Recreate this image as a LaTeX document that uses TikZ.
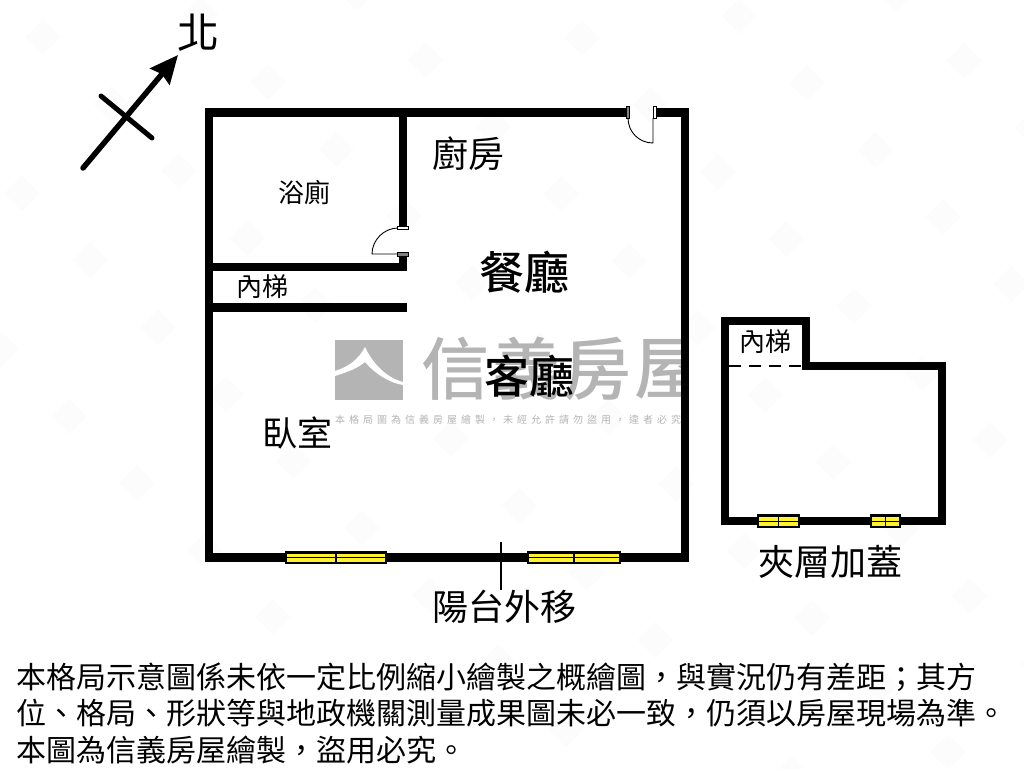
\documentclass[tikz,border=0pt]{standalone}
\usepackage{fontspec}
\setmainfont{Noto Sans CJK TC}
\newfontfamily\markfont[LetterSpace=40]{Noto Sans CJK TC}
\newfontfamily\heavyfont{Noto Sans CJK TC Medium}
\usetikzlibrary{positioning, arrows.meta}
\newcommand{\wcomma}{\char"FF0C\relax}
\newcommand{\wsemi}{\char"FF1B\relax}
\definecolor{markgray}{HTML}{B4B4B4}
\definecolor{winyellow}{HTML}{FFF22E}
\definecolor{stampgray}{HTML}{FCFCFC}
\tikzstyle{wall} = [line width=8.6pt, line join=miter, line cap=butt]
\tikzstyle{window} = [draw=black, fill=winyellow, line width=2.8pt]
\tikzstyle{jamb} = [draw=black, fill=white, line width=0.7pt]
\tikzstyle{swing} = [draw=black, line width=0.9pt]
\tikzstyle{roomlabel} = [inner sep=0pt, font=\fontsize{26}{30}\selectfont]
\tikzstyle{midlabel} = [inner sep=0pt, font=\fontsize{36}{40}\selectfont]
\tikzstyle{biglabel} = [inner sep=0pt, font=\heavyfont\fontsize{45}{50}\selectfont]
\tikzstyle{noteline} = [inner sep=0pt, anchor=west, font=\fontsize{30}{36}\selectfont]
\begin{document}
\begin{tikzpicture}[x=1pt,y=-1pt]
	\useasboundingbox (0,0) rectangle (1024,768);
	\begin{scope}
		\clip (0,0) rectangle (1024,768);
		\foreach \i in {-8,...,12}
			\foreach \j in {-6,...,6}
				\fill[stampgray, shift={(807+68*\i+157*\j,83+67*\i-22*\j)}] (-18,0) -- (0,-18) -- (18,0) -- (0,18) -- cycle;
	\end{scope}
	\fill[markgray] (335,340) rectangle (403,400);
	\fill[white] (365,347) .. controls (358,360) and (348,367) .. (335,371) -- (335,376) .. controls (348,372) and (358,368) .. (365,362) .. controls (375,374) and (390,383) .. (403,385) -- (403,382) .. controls (388,378) and (374,366) .. (365,347) -- cycle;
	\begin{scope}
		\clip (410,330) rectangle (684,430);
		\foreach \ch [count=\i from 0] in {信,義,房,屋}
			\node[inner sep=0pt, text=markgray, font=\heavyfont\fontsize{68}{70}\selectfont] (mark\i) at (455+71*\i,369) {\ch};
	\end{scope}
	\begin{scope}
		\clip (330,410) rectangle (684,430);
		\node[inner sep=0pt, anchor=west, text=markgray, font=\markfont\fontsize{10}{12}\selectfont] (markline) at (335,420) {本格局圖為信義房屋繪製\wcomma 未經允許請勿盜用\wcomma 違者必究};
	\end{scope}
	\draw[wall] (626,112.5) -- (209,112.5) -- (209,557.5) -- (685,557.5) -- (685,112.5) -- (656,112.5);
	\draw[wall] (403,112.5) -- (403,226);
	\draw[wall] (209,267) -- (403,267) -- (403,255);
	\draw[wall] (209,307.5) -- (407,307.5);
	\draw[wall] (725,366) -- (725,321) -- (806,321) -- (806,366) -- (942,366) -- (942,521) -- (725,521) -- cycle;
	\draw[line width=1.6pt, dash pattern=on 12pt off 8pt] (729,366) -- (802,366);
	\draw[swing] (398,228) .. controls (384,228) and (372,240) .. (372,254) -- (398,254);
	\draw[jamb] (397,226) rectangle (408,229);
	\draw[jamb, fill=gray] (397,252) rectangle (408,256);
	\draw[swing] (628,118) .. controls (628,132) and (639,143) .. (653,143) -- (653,118);
	\draw[jamb, fill=gray] (626,106) rectangle (629,118);
	\draw[jamb] (653,106) rectangle (656,118);
	\foreach \xa/\xb/\ya/\yb in {286/386/552.2/563, 528/620/552.2/563, 758/799/515.2/527, 871/900/515.2/527} {
		\draw[window] (\xa,\ya) rectangle (\xb,\yb);
		\draw[line width=1.1pt] (\xa,{(\ya+\yb)/2}) -- (\xb,{(\ya+\yb)/2});
		\draw[line width=1.1pt] ({(\xa+\xb)/2},\ya) -- ({(\xa+\xb)/2},\yb);
	}
	\coordinate (tail) at (83,168);
	\coordinate (tip) at (178,55);
	\coordinate (crossa) at (101,96);
	\coordinate (crossb) at (152,138);
	\draw[line width=5.5pt, -{Stealth[length=28pt,width=25pt,inset=3pt]}, line cap=round] (tail) -- (tip);
	\draw[line width=5pt, line cap=round] (crossa) -- (crossb);
	\node[inner sep=0pt, font=\fontsize{42}{46}\selectfont] (north) at (198,33) {北};
	\node[midlabel] (kitchen) at (468,154) {廚房};
	\node[roomlabel] (bath) at (304,192) {浴廁};
	\node[roomlabel] (stair) at (262,287) {內梯};
	\node[biglabel] (dining) at (524,272) {餐廳};
	\node[biglabel] (living) at (529,376) {客廳};
	\node[inner sep=0pt, font=\fontsize{35}{40}\selectfont] (bedroom) at (297,433) {臥室};
	\node[roomlabel] (stairb) at (765,342) {內梯};
	\node[midlabel] (loft) at (830,562) {夾層加蓋};
	\node[midlabel] (balcony) at (504,607) {陽台外移};
	\coordinate (lead) at (501,542);
	\draw[line width=1.3pt] (lead) -- (lead |- balcony.north);
	\node[noteline] (note1) at (16,677) {本格局示意圖係未依一定比例縮小繪製之概繪圖\wcomma 與實況仍有差距\wsemi 其方};
	\node[noteline] (note2) at (16,713) {位、格局、形狀等與地政機關測量成果圖未必一致\wcomma 仍須以房屋現場為準。};
	\node[noteline] (note3) at (16,750) {本圖為信義房屋繪製\wcomma 盜用必究。};
\end{tikzpicture}
\end{document}
